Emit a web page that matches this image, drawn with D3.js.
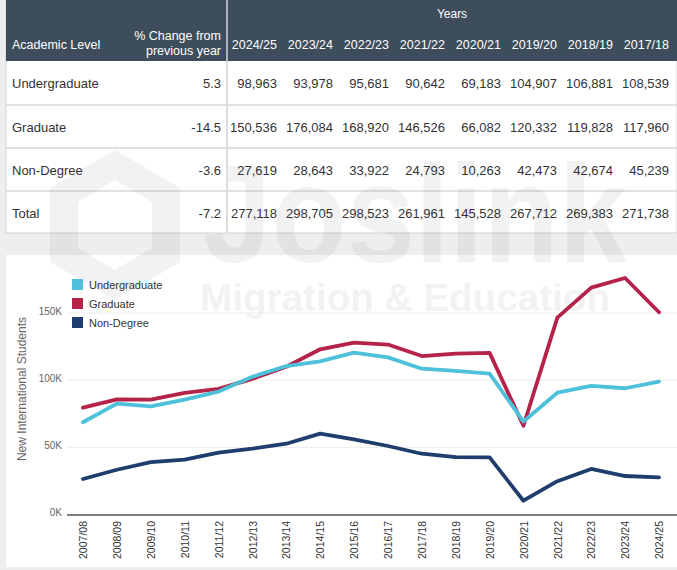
<!DOCTYPE html>
<html><head><meta charset="utf-8">
<script src="https://cdn.jsdelivr.net/npm/d3@7"></script>
<style>
body{margin:0;background:#eceef0;}
svg{display:block;font-family:"Liberation Sans",Arial,sans-serif;}
</style></head>
<body>
<svg id="c" width="677" height="570"></svg>
<script>
const levels = ["Undergraduate","Graduate","Non-Degree","Total"];
const pctChange = ["5.3","-14.5","-3.6","-7.2"];
const tableYears = ["2024/25","2023/24","2022/23","2021/22","2020/21","2019/20","2018/19","2017/18"];
const tableUG = [98963,93978,95681,90642,69183,104907,106881,108539];
const tableGR = [150536,176084,168920,146526,66082,120332,119828,117960];
const tableND = [27619,28643,33922,24793,10263,42473,42674,45239];
const tableTot = [277118,298705,298523,261961,145528,267712,269383,271738];

const chartYears = ["2007/08","2008/09","2009/10","2010/11","2011/12","2012/13","2013/14","2014/15","2015/16","2016/17","2017/18","2018/19","2019/20","2020/21","2021/22","2022/23","2023/24","2024/25"];
const ugSeries = [68700,82500,80500,85500,91500,102500,110500,114000,120500,117000,108539,106881,104907,69183,90642,95681,93978,98963];
const grSeries = [79500,85700,85500,90500,93500,101000,110000,123000,128000,126500,117960,119828,120332,66082,146526,168920,176084,150536];
const ndSeries = [26400,33300,39000,40800,46000,49000,52700,60200,56000,51000,45239,42674,42473,10263,24793,33922,28643,27619];
const yTicks = [0,50000,100000,150000];

const svg = d3.select("#c");
const fmt = d3.format(",");

// ---- Table ----
const T = {x0:6, x1:677, head:61, bottom:233};
svg.append("rect").attr("x",T.x0).attr("y",0).attr("width",T.x1-T.x0).attr("height",T.bottom).attr("fill","#fff").attr("stroke","#cfd3d7");
svg.append("rect").attr("x",T.x0).attr("y",0).attr("width",T.x1-T.x0).attr("height",T.head).attr("fill","#3e4d5c");
[105,148,191].forEach(y=>svg.append("line").attr("x1",T.x0).attr("x2",T.x1).attr("y1",y).attr("y2",y).attr("stroke","#d5d8dc").attr("stroke-width",1.5));
svg.append("line").attr("x1",227).attr("x2",227).attr("y1",0).attr("y2",T.bottom).attr("stroke","#cfd3d7").attr("stroke-width",1.5);

const colX = d3.scalePoint().domain(tableYears).range([277,669]);
svg.append("text").attr("x",452).attr("y",18).attr("text-anchor","middle").attr("fill","#fff").attr("font-size",12).text("Years");
svg.append("text").attr("x",12).attr("y",49).attr("fill","#fff").attr("font-size",12.5).text("Academic Level");
svg.append("text").attr("x",221).attr("y",40).attr("text-anchor","end").attr("fill","#fff").attr("font-size",12.5).text("% Change from");
svg.append("text").attr("x",221).attr("y",55).attr("text-anchor","end").attr("fill","#fff").attr("font-size",12.5).text("previous year");
tableYears.forEach(y=>svg.append("text").attr("x",colX(y)).attr("y",49).attr("text-anchor","end").attr("fill","#fff").attr("font-size",12.5).text(y));

const rowData = [tableUG,tableGR,tableND,tableTot];
const rowY = [88,132,175,218];
levels.forEach((lv,i)=>{
  svg.append("text").attr("x",12).attr("y",rowY[i]).attr("fill","#333").attr("font-size",13).text(lv);
  svg.append("text").attr("x",221).attr("y",rowY[i]).attr("text-anchor","end").attr("fill","#333").attr("font-size",13).text(pctChange[i]);
  rowData[i].forEach((v,j)=>svg.append("text").attr("x",colX(tableYears[j])).attr("y",rowY[i]).attr("text-anchor","end").attr("fill","#333").attr("font-size",13).text(fmt(v)));
});

// ---- Chart panel ----
svg.append("rect").attr("x",6).attr("y",255).attr("width",671).attr("height",312).attr("fill","#fff");

// watermark
const wm = svg.append("g").attr("opacity",0.06).attr("fill","#333");
wm.append("text").attr("x",203).attr("y",262).attr("font-size",140).attr("font-weight","bold")
  .attr("textLength",424).attr("lengthAdjust","spacingAndGlyphs").text("Joslink");
wm.append("text").attr("x",200).attr("y",311).attr("font-size",38).attr("font-weight","bold")
  .attr("textLength",410).attr("lengthAdjust","spacingAndGlyphs").text("Migration & Education");
wm.append("path").attr("d","M115,150 L180,188 L180,262 L115,300 L50,262 L50,188 Z M115,180 L152,202 L152,248 L115,270 L78,248 L78,202 Z").attr("fill-rule","evenodd");

const x = d3.scalePoint().domain(chartYears).range([83,659]);
const y = d3.scaleLinear().domain([0,150000]).range([514.5,313]);

// grid
svg.append("g").selectAll("line").data(yTicks.slice(1)).join("line")
  .attr("x1",67).attr("x2",677).attr("y1",d=>y(d)).attr("y2",d=>y(d)).attr("stroke","#ececec");

// y axis labels
const yAxis = d3.axisLeft(y).tickValues(yTicks).tickFormat(d=>(d/1000)+"K").tickSize(0).tickPadding(0);
const ga = svg.append("g").attr("transform","translate(62,0)").call(yAxis);
ga.select(".domain").remove();
ga.selectAll("text").attr("fill","#666").attr("font-size",10).attr("font-family","Liberation Sans, Arial, sans-serif").attr("dy","0.1em");

// x axis
const xAxis = d3.axisBottom(x).tickSize(0).tickPadding(0);
const gx = svg.append("g").attr("transform","translate(0,515)").call(xAxis);
gx.select(".domain").attr("d","M67,0H677").attr("stroke","#555").attr("stroke-width",1.5);
gx.selectAll("text").attr("fill","#333").attr("font-size",10.5).attr("font-family","Liberation Sans, Arial, sans-serif")
  .attr("transform","rotate(-90)").attr("text-anchor","end").attr("x",-6).attr("y",0).attr("dy","0.35em");

// y title
svg.append("text").attr("transform","translate(26,389) rotate(-90)").attr("text-anchor","middle").attr("fill","#666").attr("font-size",12).text("New International Students");

// lines
const series = [
  {name:"Undergraduate", values:ugSeries, color:"#4dc0da"},
  {name:"Graduate", values:grSeries, color:"#b6234a"},
  {name:"Non-Degree", values:ndSeries, color:"#1f3e6e"}
];
const line = d3.line().x((d,i)=>x(chartYears[i])).y(d=>y(d));
[series[2],series[1],series[0]].forEach(s=>{
  svg.append("path").datum(s.values).attr("d",line).attr("fill","none").attr("stroke",s.color)
    .attr("stroke-width",3.8).attr("stroke-linejoin","round").attr("stroke-linecap","round");
});

// legend
series.forEach((l,i)=>{
  const ly = 279 + i*19;
  svg.append("rect").attr("x",72).attr("y",ly).attr("width",11).attr("height",11).attr("fill",l.color);
  svg.append("text").attr("x",89).attr("y",ly+9.5).attr("fill","#333").attr("font-size",11).text(l.name);
});
</script>
</body></html>
